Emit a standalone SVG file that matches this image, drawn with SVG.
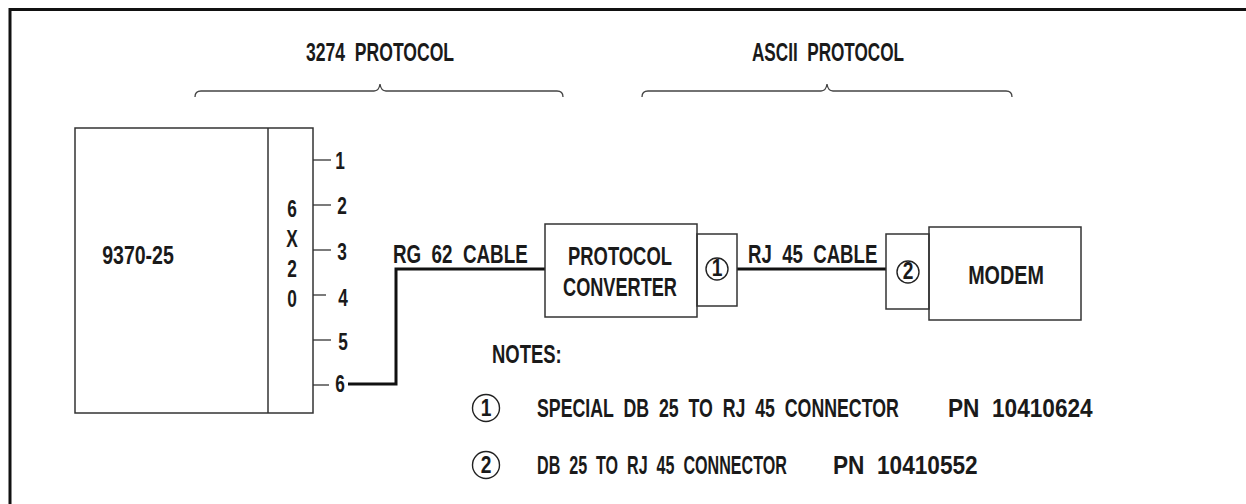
<svg xmlns="http://www.w3.org/2000/svg" width="1246" height="504" viewBox="0 0 1246 504">
<style>
.t{font-family:"Liberation Sans",Arial,sans-serif;font-weight:bold;font-size:25px;fill:#1a1a1a;white-space:pre}
.m{text-anchor:middle}
.d{font-family:"Liberation Sans",Arial,sans-serif;font-weight:bold;font-size:24px;fill:#1a1a1a;text-anchor:middle}
.box{fill:none;stroke:#333;stroke-width:1.5}
.thin{fill:none;stroke:#333;stroke-width:1.3}
.cable{fill:none;stroke:#111;stroke-width:3}
.brace{fill:none;stroke:#444;stroke-width:1.3}
.circ{fill:none;stroke:#222;stroke-width:1.4}
</style>
<rect width="1246" height="504" fill="#fff"/>
<path d="M10,504 V9.5 H1246" fill="none" stroke="#111" stroke-width="3"/>
<g id="labels-top">
<text class="t m" transform="translate(380,61) scale(0.67,1)" textLength="221" lengthAdjust="spacingAndGlyphs">3274  PROTOCOL</text>
<path class="brace" d="M195,97 Q195,91 201,91 H374 Q379,91 380,84 Q381,91 386,91 H557 Q563,91 563,97"/>
<text class="t m" transform="translate(828,61) scale(0.67,1)" textLength="227" lengthAdjust="spacingAndGlyphs">ASCII  PROTOCOL</text>
<path class="brace" d="M642,97 Q642,91 648,91 H821 Q826,91 827,84 Q828,91 833,91 H1006 Q1012,91 1012,97"/>
</g>
<g id="node-9370">
<rect class="box" x="75" y="128" width="238" height="285"/>
<line class="box" x1="268" y1="128" x2="268" y2="413"/>
<text class="t m" transform="translate(138,264) scale(0.67,1)" textLength="107" lengthAdjust="spacingAndGlyphs">9370-25</text>
<text class="d" transform="translate(292,217) scale(0.72,1)">6</text>
<text class="d" transform="translate(292,247) scale(0.72,1)">X</text>
<text class="d" transform="translate(292,277) scale(0.72,1)">2</text>
<text class="d" transform="translate(292,307) scale(0.72,1)">0</text>
</g>
<g id="pins">
<line class="thin" x1="313" y1="160" x2="331" y2="160"/>
<line class="thin" x1="313" y1="205" x2="331" y2="205"/>
<line class="thin" x1="313" y1="250" x2="331" y2="250"/>
<line class="thin" x1="313" y1="295" x2="326" y2="295"/>
<line class="thin" x1="313" y1="340" x2="331" y2="340"/>
<line class="thin" x1="313" y1="385" x2="329" y2="385"/>
<text class="d" transform="translate(340,169) scale(0.72,1)">1</text>
<text class="d" transform="translate(342,214) scale(0.72,1)">2</text>
<text class="d" transform="translate(342,260) scale(0.72,1)">3</text>
<text class="d" transform="translate(343,306) scale(0.72,1)">4</text>
<text class="d" transform="translate(343,350) scale(0.72,1)">5</text>
<text class="d" transform="translate(340,392) scale(0.72,1)">6</text>
</g>
<g id="connectors">
<path class="cable" d="M348,384 H396 V269 H545"/>
<path class="cable" d="M737,269 H886" stroke-width="2.5"/>
<text class="t" transform="translate(393,263) scale(0.67,1)" textLength="201" lengthAdjust="spacingAndGlyphs">RG  62  CABLE</text>
<text class="t" transform="translate(748,263) scale(0.67,1)" textLength="193" lengthAdjust="spacingAndGlyphs">RJ  45  CABLE</text>
</g>
<g id="node-converter">
<rect class="box" x="545" y="224" width="152" height="93"/>
<text class="t m" transform="translate(620,265) scale(0.67,1)" textLength="155" lengthAdjust="spacingAndGlyphs">PROTOCOL</text>
<text class="t m" transform="translate(620,296) scale(0.67,1)" textLength="170" lengthAdjust="spacingAndGlyphs">CONVERTER</text>
</g>
<g id="node-conn1">
<rect class="box" x="697" y="234" width="40" height="72"/>
<circle class="circ" cx="717" cy="269" r="11"/>
<text class="d" transform="translate(717,276) scale(0.8,1)" font-size="19">1</text>
</g>
<g id="node-conn2">
<rect class="box" x="886" y="234" width="43" height="75"/>
<circle class="circ" cx="908" cy="272" r="11"/>
<text class="d" transform="translate(908,279) scale(0.8,1)" font-size="19">2</text>
</g>
<g id="node-modem">
<rect class="box" x="929" y="227" width="152" height="93"/>
<text class="t m" transform="translate(1006,284) scale(0.67,1)" textLength="113" lengthAdjust="spacingAndGlyphs">MODEM</text>
</g>
<g id="notes">
<text class="t" transform="translate(492,363) scale(0.67,1)" textLength="104" lengthAdjust="spacingAndGlyphs">NOTES:</text>
<circle class="circ" cx="486" cy="408" r="13.5"/>
<text class="d" transform="translate(486,416) scale(0.8,1)">1</text>
<text class="t" transform="translate(537,417) scale(0.67,1)" textLength="540" lengthAdjust="spacingAndGlyphs">SPECIAL  DB  25  TO  RJ  45  CONNECTOR</text>
<text class="t" transform="translate(948,417) scale(0.67,1)" textLength="216" lengthAdjust="spacingAndGlyphs">PN  10410624</text>
<circle class="circ" cx="486" cy="465" r="13.5"/>
<text class="d" transform="translate(486,473) scale(0.8,1)">2</text>
<text class="t" transform="translate(537,474) scale(0.67,1)" textLength="373" lengthAdjust="spacingAndGlyphs">DB  25  TO  RJ  45  CONNECTOR</text>
<text class="t" transform="translate(833,474) scale(0.67,1)" textLength="216" lengthAdjust="spacingAndGlyphs">PN  10410552</text>
</g>
</svg>
